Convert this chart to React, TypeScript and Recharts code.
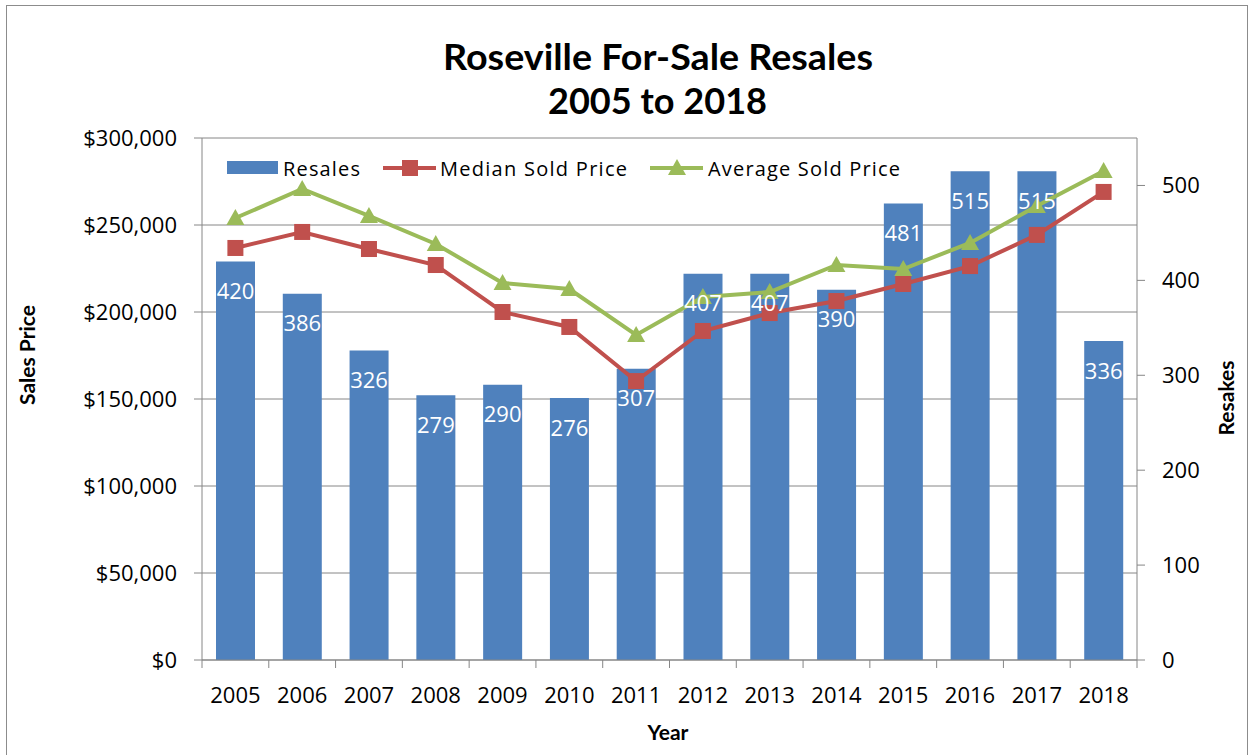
import React from 'react';
import { ComposedChart, Bar, Line, XAxis, YAxis, CartesianGrid, LabelList } from 'recharts';

const years = ['2005', '2006', '2007', '2008', '2009', '2010', '2011', '2012', '2013', '2014', '2015', '2016', '2017', '2018'];
const resales = [420, 386, 326, 279, 290, 276, 307, 407, 407, 390, 481, 515, 515, 336];
const medianPrice = [236800, 246000, 236200, 227000, 200000, 191400, 160300, 189100, 199400, 206300, 216100, 226400, 244300, 269000];
const averagePrice = [254000, 270700, 255200, 239100, 216700, 213200, 186800, 208600, 211500, 227000, 224700, 239700, 260900, 281000];
const priceTicks = [0, 50000, 100000, 150000, 200000, 250000, 300000];
const resaleTicks = [0, 100, 200, 300, 400, 500];

const BLUE = '#4F81BD';
const RED = '#C0504D';
const GREEN = '#9BBB59';
const AXIS = '#868686';
const FONT = '"Open Sans", sans-serif';
const BOLD = 'Lato, "Open Sans", sans-serif';
const X_TICK_SIZE = 6;
const X_TICK_MARGIN = 21;

const data = years.map((y, i) => ({
  year: y,
  resales: resales[i],
  median: medianPrice[i],
  average: averagePrice[i],
}));

const SquareDot = (props: any) => {
  const { cx, cy, index } = props;
  if (cx == null || cy == null) return <g key={`s-${index}`} />;
  return <rect key={`s-${index}`} x={cx - 8} y={cy - 8} width={16} height={16} fill={RED} />;
};

const TriangleDot = (props: any) => {
  const { cx, cy, index } = props;
  if (cx == null || cy == null) return <g key={`t-${index}`} />;
  return (
    <polygon
      key={`t-${index}`}
      points={`${cx},${cy - 9} ${cx + 9},${cy + 7} ${cx - 9},${cy + 7}`}
      fill={GREEN}
    />
  );
};

const YearTick = (props: any) => {
  const { x, y, payload, index, visibleTicksCount } = props;
  const half = payload && typeof payload.offset === 'number' ? payload.offset : 0;
  const axisY = y - X_TICK_SIZE - X_TICK_MARGIN;
  const isLast = index === (visibleTicksCount ?? years.length) - 1;
  return (
    <g>
      {half > 0 && (
        <line x1={x - half} y1={axisY} x2={x - half} y2={axisY + 8} stroke={AXIS} strokeWidth={1} />
      )}
      {half > 0 && isLast && (
        <line x1={x + half} y1={axisY} x2={x + half} y2={axisY + 8} stroke={AXIS} strokeWidth={1} />
      )}
      <text x={x} y={y} dy="0.71em" textAnchor="middle" fontSize={22} fill="#000" fontFamily={FONT}>
        {payload.value}
      </text>
    </g>
  );
};

const fmtPrice = (v: number) => '$' + v.toLocaleString('en-US');

export default function App() {
  return (
    <div style={{ position: 'absolute', left: 0, top: 0, width: 1251, height: 755, background: '#fff' }}>
      <ComposedChart
        width={1251}
        height={755}
        data={data}
        margin={{ top: 138, right: 0, bottom: 35, left: 0 }}
      >
        <CartesianGrid
          xAxisId="cat"
          yAxisId="left"
          vertical={false}
          stroke={AXIS}
          strokeWidth={1}
        />
        <XAxis
          xAxisId="cat"
          dataKey="year"
          type="category"
          interval={0}
          height={60}
          axisLine={{ stroke: AXIS }}
          tickLine={false}
          tickSize={X_TICK_SIZE}
          tickMargin={X_TICK_MARGIN}
          tick={<YearTick />}
        />
        <YAxis
          yAxisId="left"
          orientation="left"
          domain={[0, 300000]}
          ticks={priceTicks}
          interval={0}
          width={202}
          tickSize={8}
          tickMargin={17}
          tickFormatter={fmtPrice}
          axisLine={{ stroke: AXIS }}
          tickLine={{ stroke: AXIS }}
          tick={{ fontSize: 22, fill: '#000', fontFamily: FONT }}
        />
        <YAxis
          yAxisId="right"
          orientation="right"
          domain={[0, 550]}
          ticks={resaleTicks}
          interval={0}
          width={114}
          tickSize={8}
          tickMargin={17}
          axisLine={{ stroke: AXIS }}
          tickLine={{ stroke: AXIS }}
          tick={{ fontSize: 22, fill: '#000', fontFamily: FONT }}
        />
        <Bar
          xAxisId="cat"
          yAxisId="right"
          dataKey="resales"
          fill={BLUE}
          barSize={39}
          isAnimationActive={false}
        >
          <LabelList
            dataKey="resales"
            position="insideTop"
            offset={22}
            fill="#fff"
            fontSize={22}
            fontFamily={FONT}
          />
        </Bar>
        <Line
          xAxisId="cat"
          yAxisId="left"
          type="linear"
          dataKey="median"
          stroke={RED}
          strokeWidth={4}
          dot={SquareDot}
          activeDot={false}
          isAnimationActive={false}
        />
        <Line
          xAxisId="cat"
          yAxisId="left"
          type="linear"
          dataKey="average"
          stroke={GREEN}
          strokeWidth={4}
          dot={TriangleDot}
          activeDot={false}
          isAnimationActive={false}
        />
      </ComposedChart>
      <svg
        width={1251}
        height={755}
        style={{ position: 'absolute', left: 0, top: 0, pointerEvents: 'none' }}
      >
        <rect x={6.5} y={5.5} width={1241} height={760} fill="none" stroke="#8c8c8c" strokeWidth={1} />
        <text x={658} y={70} textAnchor="middle" fontFamily={BOLD} fontWeight={700} fontSize={37} textLength={430} lengthAdjust="spacingAndGlyphs" fill="#000">
          Roseville For-Sale Resales
        </text>
        <text x={657.5} y={114} textAnchor="middle" fontFamily={BOLD} fontWeight={700} fontSize={37} textLength={219} lengthAdjust="spacingAndGlyphs" fill="#000">
          2005 to 2018
        </text>
        <text transform="translate(35,355) rotate(-90)" textAnchor="middle" fontFamily={BOLD} fontWeight={700} fontSize={21} fill="#000">
          Sales Price
        </text>
        <text transform="translate(1234,398) rotate(-90)" textAnchor="middle" fontFamily={BOLD} fontWeight={700} fontSize={21} fill="#000">
          Resakes
        </text>
        <text x={668} y={740} textAnchor="middle" fontFamily={BOLD} fontWeight={700} fontSize={21} fill="#000">
          Year
        </text>
        <rect x={227} y={161} width={51} height={13} fill={BLUE} />
        <text x={283} y={176} fontFamily={FONT} fontSize={20} fill="#000" textLength={77} lengthAdjust="spacing">
          Resales
        </text>
        <line x1={383} y1={168} x2={436} y2={168} stroke={RED} strokeWidth={4} />
        <rect x={402} y={160} width={16} height={16} fill={RED} />
        <text x={440} y={176} fontFamily={FONT} fontSize={20} fill="#000" textLength={187} lengthAdjust="spacing">
          Median Sold Price
        </text>
        <line x1={650} y1={168} x2={703} y2={168} stroke={GREEN} strokeWidth={4} />
        <polygon points="677,159 686,175 668,175" fill={GREEN} />
        <text x={708} y={176} fontFamily={FONT} fontSize={20} fill="#000" textLength={192} lengthAdjust="spacing">
          Average Sold Price
        </text>
      </svg>
    </div>
  );
}
